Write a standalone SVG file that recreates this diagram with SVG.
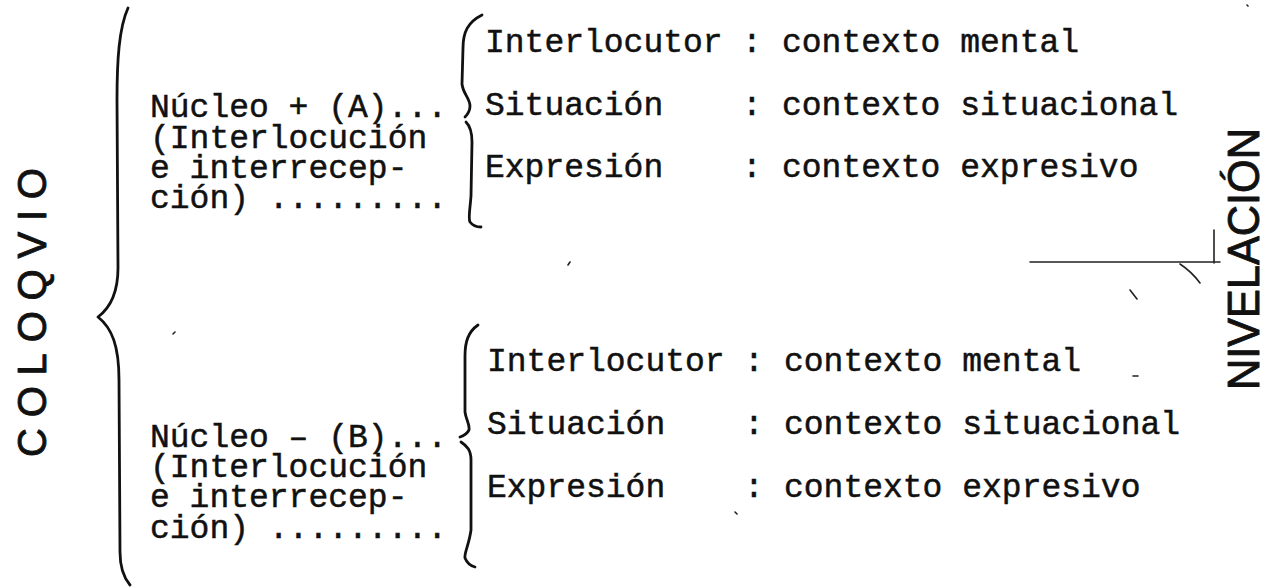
<svg xmlns="http://www.w3.org/2000/svg" width="1265" height="587" viewBox="0 0 1265 587">
  <style>
    .tt { font-family: "Liberation Mono", "DejaVu Sans Mono", monospace; font-size: 33px; fill: #111; stroke: #111; stroke-width: 0.5; }
    .hand { font-family: "Liberation Sans", "DejaVu Sans", sans-serif; fill: #111; stroke: #111; stroke-width: 0.9; stroke-linejoin: round; }
    .brace { fill: none; stroke: #111; stroke-width: 2.8; stroke-linecap: round; stroke-linejoin: round; }
    .mark { fill: none; stroke: #222; stroke-width: 1.6; stroke-linecap: round; }
  </style>

  <rect width="1265" height="587" fill="#fff"/>

  <!-- vertical title on the left -->
  <g id="coloquio">
    <text class="hand" font-size="40" transform="translate(46,457) rotate(-90)" textLength="289" lengthAdjust="spacing">COLOQVIO</text>
  </g>

  <!-- vertical title on the right -->
  <g id="nivelacion">
    <text class="hand" font-size="45" transform="translate(1259,390) rotate(-90)" textLength="262" lengthAdjust="spacingAndGlyphs">NIVELACIÓN</text>
    <path class="mark" d="M1030 262 L1220 262 M1214 230 L1214 263" stroke-width="2"/>
    <path class="mark" d="M1180 264 Q1192 272 1200 283 M1130 290 L1137 299"/>
  </g>

  <!-- braces -->
  <g id="connectors">
    <path class="brace" d="M128 8 C119 28 117 60 117 100 L118 268 C118 294 110 308 98 317 C112 328 119 346 119 380 L120 552 C120 568 124 578 130 585"/>
    <path class="brace" d="M482 15 C468 22 463 32 463 48 L462 84 C463 94 470 98 470 106 C470 112 467 115 465 117 M466 122 C470 126 472 132 472 142 L471 196 C470 210 468 218 470 222 C473 226 477 227 481 227"/>
    <path class="brace" d="M478 325 C468 332 465 342 465 356 L465 412 C466 420 470 424 469 430 C467 434 463 436 460 437 M461 442 C467 446 471 450 471 460 L471 530 C469 545 464 553 465 558 C467 563 471 566 475 567"/>
  </g>

  <!-- upper nucleus -->
  <g id="nucleo-a">
    <text class="tt" x="150" y="117">Núcleo + (A)...</text>
    <text class="tt" x="150" y="148">(Interlocución</text>
    <text class="tt" x="150" y="178">e interrecep-</text>
    <text class="tt" x="150" y="208">ción) .........</text>
  </g>

  <g id="contextos-a">
    <text class="tt" x="485" y="52">Interlocutor</text>
    <text class="tt" x="742" y="52">:</text>
    <text class="tt" x="782" y="52">contexto mental</text>
    <text class="tt" x="485" y="115">Situación</text>
    <text class="tt" x="742" y="115">:</text>
    <text class="tt" x="782" y="115">contexto situacional</text>
    <text class="tt" x="485" y="177">Expresión</text>
    <text class="tt" x="742" y="177">:</text>
    <text class="tt" x="782" y="177">contexto expresivo</text>
  </g>

  <!-- lower nucleus -->
  <g id="nucleo-b">
    <text class="tt" x="150" y="447">Núcleo – (B)...</text>
    <text class="tt" x="150" y="477">(Interlocución</text>
    <text class="tt" x="150" y="507">e interrecep-</text>
    <text class="tt" x="150" y="538">ción) .........</text>
  </g>

  <g id="contextos-b">
    <text class="tt" x="487" y="371">Interlocutor</text>
    <text class="tt" x="744" y="371">:</text>
    <text class="tt" x="784" y="371">contexto mental</text>
    <text class="tt" x="487" y="434">Situación</text>
    <text class="tt" x="744" y="434">:</text>
    <text class="tt" x="784" y="434">contexto situacional</text>
    <text class="tt" x="487" y="497">Expresión</text>
    <text class="tt" x="744" y="497">:</text>
    <text class="tt" x="784" y="497">contexto expresivo</text>
  </g>

  <!-- stray specks -->
  <path class="mark" d="M570 262 l-2 3 M175 332 l-2 2 M735 512 l2 2 M1133 376 l5 0 M1247 5 l1 1"/>
</svg>
